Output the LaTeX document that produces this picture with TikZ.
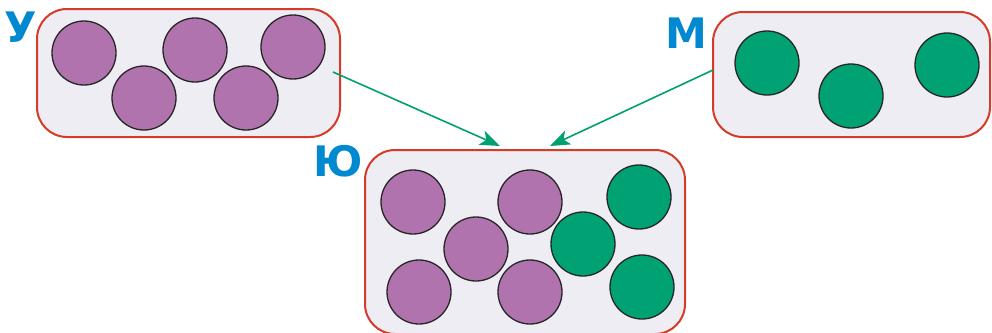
\documentclass[tikz,border=0pt]{standalone}
\usepackage{fontspec}
\setmainfont{Liberation Sans}
\newfontfamily\labelfont{DejaVu Sans}
\usetikzlibrary{arrows.meta}
\definecolor{boxfill}{HTML}{EEEDF3}
\definecolor{boxline}{HTML}{D63A28}
\definecolor{purp}{HTML}{B173AD}
\definecolor{grn}{HTML}{00A273}
\definecolor{arrgrn}{HTML}{00A070}
\definecolor{lblue}{HTML}{0088D0}
\tikzset{
  setbox/.style={draw=boxline, line width=2pt, fill=boxfill, rounded corners=30pt, inner sep=0pt},
  pball/.style={circle, draw=black!85, line width=1.3pt, fill=purp, minimum size=64pt, inner sep=0pt},
  gball/.style={circle, draw=black!85, line width=1.3pt, fill=grn, minimum size=64pt, inner sep=0pt},
  setlabel/.style={text=lblue, font=\labelfont\bfseries\fontsize{42}{42}\selectfont, anchor=base, inner sep=0pt},
  joinarrow/.style={draw=arrgrn, line width=1.6pt, -{Stealth[length=20pt, width=15pt, inset=5pt]}}
}
\begin{document}
\begin{tikzpicture}[x=1pt,y=-1pt]
\useasboundingbox (0,0) rectangle (992,332);
% boxes
\node[setbox, minimum width=303pt, minimum height=128pt] (L) at (188.5,73) {};
\node[setbox, minimum width=277pt, minimum height=125pt] (R) at (851.5,74.5) {};
\node[setbox, minimum width=320pt, minimum height=184pt] (B) at (525,242) {};
% labels
\node[setlabel] (lu) at (21,42) {У};
\node[setlabel] (lm) at (686,48) {М};
\node[setlabel] (lj) at (338,176) {Ю};
% left set
\node[pball] (l1) at (84,53) {};
\node[pball] (l2) at (144,98) {};
\node[pball] (l3) at (195,50) {};
\node[pball] (l4) at (246,98) {};
\node[pball] (l5) at (293,47) {};
% right set
\node[gball] (r1) at (767,63) {};
\node[gball] (r2) at (851,96) {};
\node[gball] (r3) at (947,65) {};
% union set
\node[pball] (b1) at (413,202) {};
\node[pball] (b2) at (476,249) {};
\node[pball] (b3) at (419,292) {};
\node[pball] (b4) at (530,202) {};
\node[pball] (b5) at (530,292) {};
\node[gball] (b6) at (639,197) {};
\node[gball] (b7) at (583,244) {};
\node[gball] (b8) at (642,287) {};
% arrows
\coordinate (s1) at (333,72);
\coordinate (t1) at (500,146);
\coordinate (s2) at (713,70);
\coordinate (t2) at (550,146);
\draw[joinarrow] (s1) -- (t1);
\draw[joinarrow] (s2) -- (t2);
\end{tikzpicture}
\end{document}
